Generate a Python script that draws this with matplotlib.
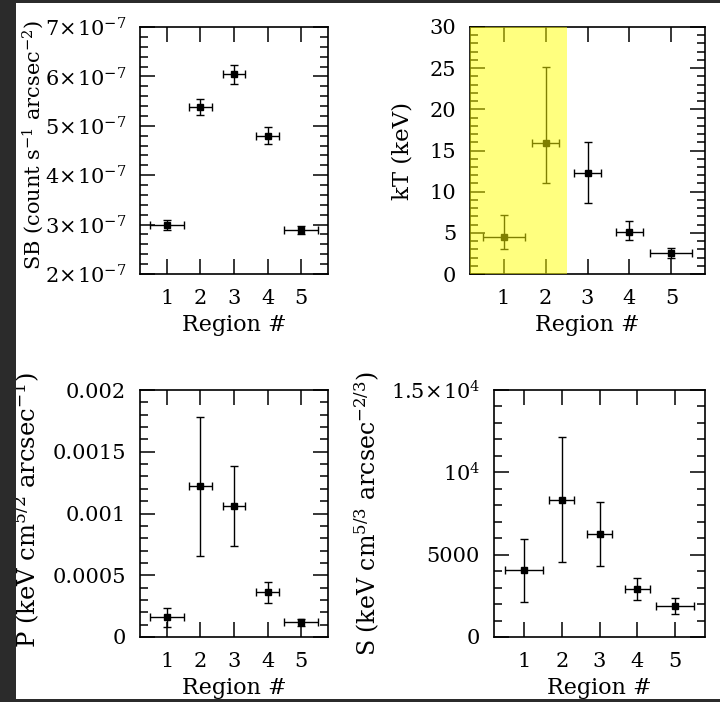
import matplotlib
matplotlib.use('Agg')
import matplotlib.pyplot as plt
from matplotlib.patches import Rectangle
from matplotlib.ticker import MultipleLocator, FixedLocator, FixedFormatter

plt.rcParams['font.family'] = 'DejaVu Serif'
plt.rcParams['mathtext.fontset'] = 'dejavuserif'
plt.rcParams['font.size'] = 16

# Per-region measurements
regions = [1, 2, 3, 4, 5]
region_halfwidth = [0.5, 0.33, 0.33, 0.33, 0.5]

sb = [3.00e-7, 5.38e-7, 6.04e-7, 4.80e-7, 2.89e-7]
sb_err = [0.10e-7, 0.17e-7, 0.19e-7, 0.17e-7, 0.08e-7]

kt = [4.44, 15.87, 12.23, 5.09, 2.55]
kt_lo = [1.41, 4.77, 3.63, 0.93, 0.65]
kt_hi = [2.75, 9.28, 3.84, 1.37, 0.65]

pres = [1.62e-4, 1.224e-3, 1.057e-3, 3.64e-4, 1.19e-4]
pres_lo = [0.81e-4, 5.66e-4, 3.24e-4, 0.89e-4, 0.27e-4]
pres_hi = [0.72e-4, 5.60e-4, 3.28e-4, 0.81e-4, 0.27e-4]

ent = [4043, 8349, 6246, 2911, 1900]
ent_lo = [1921, 3821, 1940, 687, 485]
ent_hi = [1920, 3821, 1941, 647, 445]

sb_ticks = [2e-7, 3e-7, 4e-7, 5e-7, 6e-7, 7e-7]
sb_ticklabels = [r'$2\!\times\!10^{-7}$', r'$3\!\times\!10^{-7}$', r'$4\!\times\!10^{-7}$',
                 r'$5\!\times\!10^{-7}$', r'$6\!\times\!10^{-7}$', r'$7\!\times\!10^{-7}$']
p_ticks = [0, 0.0005, 0.001, 0.0015, 0.002]
p_ticklabels = ['0', '0.0005', '0.001', '0.0015', '0.002']
s_ticks = [0, 5000, 10000, 15000]
s_ticklabels = ['0', '5000', r'$10^{4}$', r'$1.5\!\times\!10^{4}$']

W, H = 720, 702
fig = plt.figure(figsize=(W / 100, H / 100), dpi=100, facecolor='white')


def make_axes(l, r, t, b):
    return fig.add_axes([l / W, 1 - b / H, (r - l) / W, (b - t) / H])


def style(ax, minor):
    for sp in ax.spines.values():
        sp.set_linewidth(1.2)
    ax.set_xlim(0.2, 5.8)
    ax.xaxis.set_major_locator(FixedLocator(regions))
    ax.yaxis.set_minor_locator(MultipleLocator(minor))
    ax.tick_params(which='both', direction='in', top=True, right=True, width=1.1,
                   labelsize=15)
    ax.tick_params(which='major', length=11)
    ax.tick_params(which='minor', length=5.5)
    ax.tick_params(axis='y', pad=10)
    ax.tick_params(axis='x', pad=11)
    ax.set_xlabel('Region #', labelpad=4)


def points(ax, y, lo, hi):
    ax.errorbar(regions, y, xerr=region_halfwidth, yerr=[lo, hi], fmt='s', color='black',
                ms=5, elinewidth=1.0, capsize=3, capthick=1.0)


# surface brightness
ax1 = make_axes(140, 328, 27, 274)
points(ax1, sb, sb_err, sb_err)
style(ax1, 0.2e-7)
ax1.set_ylim(2e-7, 7e-7)
ax1.yaxis.set_major_locator(FixedLocator(sb_ticks))
ax1.yaxis.set_major_formatter(FixedFormatter(sb_ticklabels))
ax1.set_ylabel(r'SB (count s$^{-1}$ arcsec$^{-2}$)', fontsize=15)
ax1.yaxis.set_label_coords(-0.50, 0.522)

# temperature
ax2 = make_axes(470, 705, 27, 274)
points(ax2, kt, kt_lo, kt_hi)
style(ax2, 1)
ax2.set_ylim(0, 30)
ax2.yaxis.set_major_locator(MultipleLocator(5))
ax2.set_ylabel('kT (keV)', fontsize=16.5)
ax2.yaxis.set_label_coords(-0.24, 0.498)
ax2.axvspan(0.2, 2.5, color=(1, 1, 0), alpha=0.5, lw=0, zorder=5)

# pressure
ax3 = make_axes(140, 328, 390, 637)
points(ax3, pres, pres_lo, pres_hi)
style(ax3, 0.0001)
ax3.set_ylim(0, 0.002)
ax3.yaxis.set_major_locator(FixedLocator(p_ticks))
ax3.yaxis.set_major_formatter(FixedFormatter(p_ticklabels))
ax3.set_ylabel(r'P (keV cm$^{5/2}$ arcsec$^{-1}$)', fontsize=17.5)
ax3.yaxis.set_label_coords(-0.52, 0.514)

# entropy
ax4 = make_axes(494, 705, 390, 637)
points(ax4, ent, ent_lo, ent_hi)
style(ax4, 1000)
ax4.set_ylim(0, 15000)
ax4.yaxis.set_major_locator(FixedLocator(s_ticks))
ax4.yaxis.set_major_formatter(FixedFormatter(s_ticklabels))
ax4.set_ylabel(r'S (keV cm$^{5/3}$ arcsec$^{-2/3}$)', fontsize=17)
ax4.yaxis.set_label_coords(-0.531, 0.502)

# dark slide border
for x0, y0, w, h in [(0, 0, 16, H), (0, 0, W, 3), (0, 699, W, 3)]:
    fig.add_artist(Rectangle((x0 / W, 1 - (y0 + h) / H), w / W, h / H,
                             transform=fig.transFigure, color='#2b2b2b', lw=0, zorder=20))

fig.savefig('out.png', dpi=100, facecolor=fig.get_facecolor())
